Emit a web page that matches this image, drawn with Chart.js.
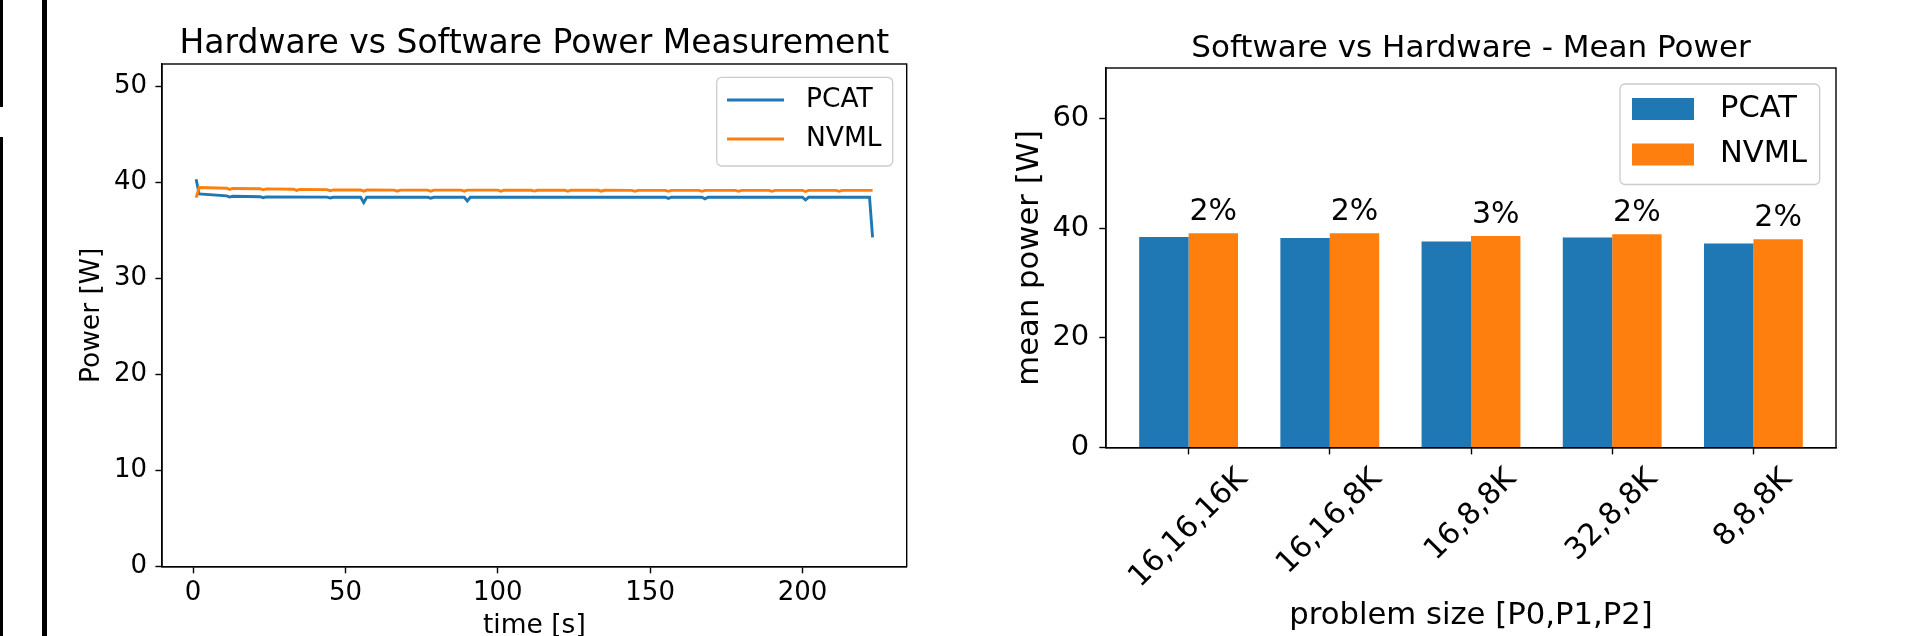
<!DOCTYPE html>
<html lang="en">
<head>
    <meta charset="UTF-8">
    <title>Hardware vs Software Power</title>
    <script src="https://cdn.jsdelivr.net/npm/chart.js"></script>
    <style>
        html, body {
            margin: 0;
            padding: 0;
            background: #fff;
            overflow: hidden;
        }
        body {
            width: 1905px;
            height: 636px;
            position: relative;
            font-family: 'DejaVu Sans', sans-serif;
        }
        #leftWrap { position: absolute; left: 0; top: 0; width: 950px; height: 680px; }
        #rightWrap { position: absolute; left: 950px; top: 0; width: 955px; height: 680px; }
        /* dark strips at the left edge of the screenshot */
        .edge { position: absolute; background: #000; }
    </style>
</head>
<body>
    <div id="leftWrap"><canvas id="lineChart" width="950" height="680"></canvas></div>
    <div id="rightWrap"><canvas id="barChart" width="955" height="680"></canvas></div>
    <div class="edge" style="left:0;top:0;width:3px;height:107px"></div>
    <div class="edge" style="left:0;top:137px;width:3px;height:499px"></div>
    <div class="edge" style="left:42px;top:0;width:5px;height:636px"></div>

    <script>
        // ---- left plot: power over time ----
        const pcatTime  = [1, 2, 11, 12, 13, 22, 23, 24, 44, 45, 46, 55, 56, 57, 77, 78, 79, 89, 90, 91, 155, 156, 157, 167, 168, 169, 200, 201, 202, 222, 223];
        const pcatPower = [40.35, 38.82, 38.62, 38.5, 38.58, 38.54, 38.44, 38.52, 38.49, 38.4, 38.48, 38.48, 37.92, 38.48, 38.48, 38.38, 38.48, 38.48, 38.1, 38.48, 38.48, 38.36, 38.48, 38.48, 38.32, 38.48, 38.48, 38.22, 38.48, 38.48, 34.3];

        const nvmlTime  = [1, 2, 11, 12, 13, 22, 23, 24, 33, 34, 35, 44, 45, 46, 55, 56, 57, 66, 67, 68, 77, 78, 79, 88, 89, 90,
                           100, 101, 102, 111, 112, 113, 122, 123, 124, 133, 134, 135, 144, 145, 146, 155, 156, 157,
                           166, 167, 168, 178, 179, 180, 189, 190, 191, 200, 201, 202, 211, 212, 213, 223];
        const nvmlPower = [38.45, 39.5, 39.42, 39.3, 39.4, 39.37, 39.26, 39.35, 39.32, 39.2, 39.3, 39.27, 39.15, 39.25,
                           39.23, 39.12, 39.23, 39.22, 39.12, 39.22, 39.22, 39.1, 39.22, 39.22, 39.12, 39.22,
                           39.22, 39.1, 39.22, 39.21, 39.12, 39.21, 39.21, 39.1, 39.21, 39.21, 39.11, 39.21,
                           39.2, 39.1, 39.2, 39.2, 39.1, 39.2, 39.2, 39.1, 39.2, 39.2, 39.1, 39.2,
                           39.2, 39.1, 39.2, 39.2, 39.08, 39.2, 39.2, 39.1, 39.2, 39.2];

        const timeTicks  = [0, 50, 100, 150, 200];
        const powerTicks = [0, 10, 20, 30, 40, 50];

        // ---- right plot: mean power per problem size ----
        const sizeLabels  = ['16,16,16K', '16,16,8K', '16,8,8K', '32,8,8K', '8,8,8K'];
        const pcatMean    = [38.4, 38.2, 37.6, 38.3, 37.2];
        const nvmlMean    = [39.1, 39.1, 38.6, 38.9, 38.0];
        const diffLabels  = ['2%', '2%', '3%', '2%', '2%'];
        const meanTicks   = [0, 20, 40, 60];

        const BLUE = '#1f77b4';
        const ORANGE = '#ff7f0e';
        const FONT = "'DejaVu Sans', sans-serif";

        // set the tick list by hand, like matplotlib does
        function fixedTicks(values) {
            return scale => { scale.ticks = values.map(v => ({ value: v })); };
        }

        // box around the whole plot area
        const framePlugin = {
            id: 'frame',
            afterDraw(chart) {
                const { ctx, chartArea: a } = chart;
                ctx.save();
                ctx.strokeStyle = '#000';
                ctx.lineWidth = 1.4;
                ctx.strokeRect(a.left, a.top, a.right - a.left, a.bottom - a.top);
                ctx.restore();
            }
        };

        // title centred on the plot area
        const titlePlugin = {
            id: 'mplTitle',
            afterDraw(chart, args, o) {
                const { ctx, chartArea: a } = chart;
                ctx.save();
                ctx.font = o.size + 'px ' + FONT;
                ctx.fillStyle = '#000';
                ctx.textAlign = 'center';
                ctx.textBaseline = 'alphabetic';
                ctx.fillText(o.text, (a.left + a.right) / 2, o.baseline);
                ctx.restore();
            }
        };

        // legend box in the upper right corner
        const legendPlugin = {
            id: 'mplLegend',
            afterDraw(chart, args, o) {
                const { ctx, chartArea: a } = chart;
                const x0 = a.right - o.right - o.width;
                const y0 = a.top + o.top;
                ctx.save();
                ctx.beginPath();
                ctx.roundRect(x0, y0, o.width, o.height, 5);
                ctx.fillStyle = 'rgba(255,255,255,0.8)';
                ctx.fill();
                ctx.lineWidth = 1.3;
                ctx.strokeStyle = '#cccccc';
                ctx.stroke();
                ctx.font = o.size + 'px ' + FONT;
                ctx.textAlign = 'left';
                ctx.textBaseline = 'middle';
                chart.data.datasets.forEach((ds, i) => {
                    const cy = y0 + o.rows[i];
                    if (o.kind === 'line') {
                        ctx.strokeStyle = ds.borderColor;
                        ctx.lineWidth = 2.9;
                        ctx.beginPath();
                        ctx.moveTo(x0 + o.handleX, cy);
                        ctx.lineTo(x0 + o.handleX + o.handleW, cy);
                        ctx.stroke();
                    } else {
                        ctx.fillStyle = ds.backgroundColor;
                        ctx.fillRect(x0 + o.handleX, cy - o.patchH / 2, o.handleW, o.patchH);
                    }
                    ctx.fillStyle = '#000';
                    ctx.fillText(ds.label, x0 + o.textX, cy);
                });
                ctx.restore();
            }
        };

        // percentage labels over the NVML bars and 45 degree category labels
        const barTextPlugin = {
            id: 'barText',
            afterDraw(chart) {
                const { ctx, chartArea: a } = chart;
                ctx.save();
                ctx.fillStyle = '#000';

                ctx.font = '30px ' + FONT;
                ctx.textAlign = 'center';
                ctx.textBaseline = 'alphabetic';
                chart.getDatasetMeta(1).data.forEach((bar, i) => {
                    ctx.fillText(diffLabels[i], bar.x, bar.y - 13);
                });

                const xs = chart.scales.x;
                const h = 30 * 1.164;
                ctx.textBaseline = 'middle';
                xs.ticks.forEach(t => {
                    const label = sizeLabels[t.value];
                    const len = ctx.measureText(label).width;
                    const cx = xs.getPixelForValue(t.value);
                    const cy = a.bottom + 14.3 + (len + h) / (2 * Math.SQRT2);
                    ctx.save();
                    ctx.translate(cx, cy);
                    ctx.rotate(-Math.PI / 4);
                    ctx.fillText(label, 0, 0);
                    ctx.restore();
                });
                ctx.restore();
            }
        };

        function axisStyle(size, tickLen) {
            return {
                grid: { drawOnChartArea: false, drawTicks: true, tickLength: tickLen, tickWidth: 1.4, tickColor: '#000', offset: false },
                border: { display: true, color: '#000', width: 1.4 },
                ticks: { color: '#000', font: { family: FONT, size: size }, autoSkip: false, maxRotation: 0, minRotation: 0 }
            };
        }

        // ---- line chart ----
        const lx = axisStyle(26, 6.6);
        const ly = axisStyle(26, 6.6);

        new Chart(document.getElementById('lineChart'), {
            type: 'line',
            data: {
                datasets: [
                    {
                        label: 'PCAT',
                        data: pcatTime.map((t, i) => ({ x: t, y: pcatPower[i] })),
                        borderColor: BLUE,
                        borderWidth: 2.9,
                        pointRadius: 0,
                        tension: 0,
                        order: 1
                    },
                    {
                        label: 'NVML',
                        data: nvmlTime.map((t, i) => ({ x: t, y: nvmlPower[i] })),
                        borderColor: ORANGE,
                        borderWidth: 2.9,
                        pointRadius: 0,
                        tension: 0,
                        order: 0
                    }
                ]
            },
            options: {
                responsive: false,
                animation: false,
                devicePixelRatio: 1,
                layout: { padding: { left: 0, right: 43.3, top: 64, bottom: 0 } },
                plugins: {
                    legend: { display: false },
                    tooltip: { enabled: false },
                    mplTitle: { text: 'Hardware vs Software Power Measurement', size: 33, baseline: 53 },
                    mplLegend: { kind: 'line', right: 14, top: 13.3, width: 176, height: 88.7, rows: [22.7, 61.7],
                                 handleX: 10.3, handleW: 57, textX: 89.3, size: 26.5 }
                },
                scales: {
                    x: {
                        type: 'linear',
                        min: -10.2,
                        max: 234.2,
                        afterBuildTicks: fixedTicks(timeTicks),
                        afterFit: s => { s.height = 113.3; },
                        grid: lx.grid,
                        border: lx.border,
                        ticks: Object.assign(lx.ticks, { padding: 4.1 }),
                        title: { display: true, text: 'time [s]', color: '#000',
                                 font: { family: FONT, size: 26.5 }, padding: { top: 0, bottom: 37.6 } }
                    },
                    y: {
                        min: 0,
                        max: 52.36,
                        afterBuildTicks: fixedTicks(powerTicks),
                        afterFit: s => { s.width = 162; },
                        grid: ly.grid,
                        border: ly.border,
                        ticks: Object.assign(ly.ticks, { padding: 8.4 }),
                        title: { display: true, text: 'Power [W]', color: '#000',
                                 font: { family: FONT, size: 26.5 }, padding: { top: 76, bottom: 0 } }
                    }
                }
            },
            plugins: [framePlugin, titlePlugin, legendPlugin]
        });

        // ---- bar chart ----
        const bx = axisStyle(30, 6.7);
        const by = axisStyle(29, 6.7);

        new Chart(document.getElementById('barChart'), {
            type: 'bar',
            data: {
                datasets: [
                    {
                        label: 'PCAT',
                        data: sizeLabels.map((s, i) => ({ x: i, y: pcatMean[i] })),
                        backgroundColor: BLUE,
                        borderWidth: 0
                    },
                    {
                        label: 'NVML',
                        data: sizeLabels.map((s, i) => ({ x: i, y: nvmlMean[i] })),
                        backgroundColor: ORANGE,
                        borderWidth: 0
                    }
                ]
            },
            options: {
                responsive: false,
                animation: false,
                devicePixelRatio: 1,
                categoryPercentage: 0.7,
                barPercentage: 1.0,
                layout: { padding: { left: 0, right: 69, top: 68, bottom: 0 } },
                plugins: {
                    legend: { display: false },
                    tooltip: { enabled: false },
                    mplTitle: { text: 'Software vs Hardware - Mean Power', size: 31, baseline: 56.5 },
                    mplLegend: { kind: 'patch', right: 16.3, top: 16, width: 199.7, height: 100.5, rows: [25, 70.5],
                                 handleX: 12, handleW: 62, patchH: 22, textX: 100, size: 30.5 }
                },
                scales: {
                    x: {
                        type: 'linear',
                        offset: false,
                        min: -0.585,
                        max: 4.585,
                        afterBuildTicks: fixedTicks(sizeLabels.map((s, i) => i)),
                        afterFit: s => { s.height = 232.3; },
                        grid: bx.grid,
                        border: bx.border,
                        ticks: Object.assign(bx.ticks, { display: false }),
                        title: { display: true, text: 'problem size [P0,P1,P2]', color: '#000',
                                 font: { family: FONT, size: 30.7 }, padding: { top: 0, bottom: 45.7 } }
                    },
                    y: {
                        min: 0,
                        max: 69.2,
                        afterBuildTicks: fixedTicks(meanTicks),
                        afterFit: s => { s.width = 156; },
                        grid: by.grid,
                        border: by.border,
                        ticks: Object.assign(by.ticks, { padding: 10 }),
                        title: { display: true, text: 'mean power [W]', color: '#000',
                                 font: { family: FONT, size: 30.7 }, padding: { top: 61.6, bottom: 0 } }
                    }
                }
            },
            plugins: [framePlugin, titlePlugin, legendPlugin, barTextPlugin]
        });
    </script>
</body>
</html>
